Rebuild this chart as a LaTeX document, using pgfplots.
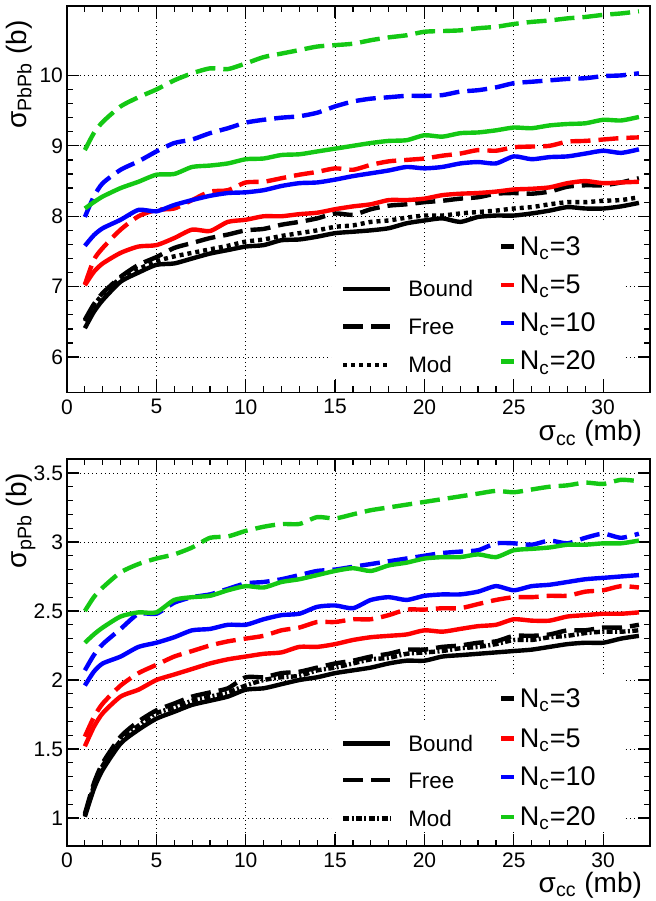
\documentclass[border=0pt]{standalone}
\usepackage{fontspec}
\setmainfont{Liberation Sans}
\usepackage{pgfplots}
\pgfplotsset{compat=1.18}

\definecolor{rgreen}{RGB}{20,200,20}

\pgfplotsset{
  rootaxis/.style={
    scale only axis, width=291.5pt, height=193.3pt,
    xmin=0, xmax=32.62, clip=false,
    xtick={0,5,...,30}, minor x tick num=4, minor y tick num=4,
    tick align=inside, tick pos=both,
    major tick length=6pt, minor tick length=3pt,
    grid=major,
    major grid style={black, line width=0.4pt, dash pattern=on 0.5pt off 1.6pt},
    axis line style={line width=0.8pt},
    tick style={black, line width=0.6pt},
    tick label style={font=\fontsize{10.5}{12}\selectfont},
    /pgf/number format/assume math mode=true,
    yticklabel style={xshift=1.5pt},
    every axis plot/.append style={line width=2.2pt, smooth, tension=0.4},
  },
}
\tikzset{
  bnd/.style={solid},
  fre/.style={dash pattern=on 10pt off 4pt},
  modt/.style={dash pattern=on 2pt off 2pt},
  modb/.style={dash pattern=on 3pt off 1.2pt on 1pt off 1.2pt},
  labfont/.style={font=\fontsize{14}{16}\selectfont},
  legA/.style={font=\fontsize{11.2}{13}\selectfont, anchor=base west},
  legB/.style={font=\fontsize{13.5}{16}\selectfont, anchor=base west},
}

\begin{document}
\begin{tikzpicture}
\useasboundingbox (-33.5pt,-254.35pt) rectangle (294pt,196.15pt);

% ---------- top: PbPb ----------
\begin{axis}[rootaxis, at={(0,0)}, anchor=south west,
    ymin=5.5, ymax=10.99, ytick={6,7,8,9,10}]
% legend backgrounds
\fill[white] (axis cs:14.85,5.69) rectangle (axis cs:24.0,7.24);
\fill[white] (axis cs:24.0,5.69) rectangle (axis cs:31.2,7.905);

\addplot[black, bnd] coordinates {(1,6.41)(1.5,6.64)(2,6.81)(3,7.07)(4,7.20)(5,7.31)(6,7.33)(7,7.40)(8,7.47)(9,7.52)(10,7.57)(11,7.59)(12,7.66)(13,7.67)(14,7.71)(15,7.76)(16,7.78)(17,7.80)(18,7.83)(19,7.90)(20,7.94)(21,7.97)(22,7.92)(23,7.99)(24,8.01)(25,8.01)(26,8.04)(27,8.08)(28,8.13)(29,8.11)(30,8.11)(31,8.14)(32,8.19)};
\addplot[black, fre] coordinates {(1,6.53)(1.5,6.75)(2,6.91)(3,7.14)(4,7.31)(5,7.42)(6,7.55)(7,7.62)(8,7.69)(9,7.74)(10,7.80)(11,7.82)(12,7.88)(13,7.92)(14,7.97)(15,8.04)(16,8.02)(17,8.10)(18,8.15)(19,8.17)(20,8.20)(21,8.22)(22,8.25)(23,8.27)(24,8.32)(25,8.33)(26,8.32)(27,8.35)(28,8.42)(29,8.44)(30,8.44)(31,8.48)(32,8.54)};
\addplot[black, modt] coordinates {(1,6.51)(1.5,6.73)(2,6.89)(3,7.12)(4,7.25)(5,7.36)(6,7.43)(7,7.48)(8,7.53)(9,7.58)(10,7.64)(11,7.67)(12,7.72)(13,7.76)(14,7.80)(15,7.85)(16,7.87)(17,7.92)(18,7.94)(19,7.98)(20,8.01)(21,8.01)(22,8.04)(23,8.06)(24,8.08)(25,8.11)(26,8.13)(27,8.17)(28,8.20)(29,8.20)(30,8.22)(31,8.23)(32,8.27)};
\addplot[red, bnd] coordinates {(1,7.02)(1.5,7.21)(2,7.33)(3,7.48)(4,7.57)(5,7.59)(6,7.69)(7,7.81)(8,7.79)(9,7.92)(10,7.95)(11,8.00)(12,8.00)(13,8.03)(14,8.05)(15,8.10)(16,8.14)(17,8.17)(18,8.23)(19,8.23)(20,8.25)(21,8.30)(22,8.32)(23,8.33)(24,8.35)(25,8.38)(26,8.39)(27,8.41)(28,8.47)(29,8.50)(30,8.47)(31,8.48)(32,8.49)};
\addplot[red, fre] coordinates {(1,7.03)(1.5,7.38)(2,7.55)(3,7.81)(4,8.00)(5,8.09)(6,8.11)(7,8.23)(8,8.35)(9,8.37)(10,8.48)(11,8.49)(12,8.54)(13,8.59)(14,8.63)(15,8.68)(16,8.66)(17,8.73)(18,8.78)(19,8.80)(20,8.82)(21,8.86)(22,8.89)(23,8.94)(24,8.93)(25,8.98)(26,8.99)(27,9.00)(28,9.06)(29,9.07)(30,9.09)(31,9.11)(32,9.12)};
\addplot[blue, bnd] coordinates {(1,7.58)(1.5,7.73)(2,7.83)(3,7.95)(4,8.09)(5,8.07)(6,8.16)(7,8.23)(8,8.29)(9,8.33)(10,8.34)(11,8.37)(12,8.43)(13,8.47)(14,8.48)(15,8.52)(16,8.57)(17,8.61)(18,8.65)(19,8.70)(20,8.68)(21,8.70)(22,8.75)(23,8.77)(24,8.75)(25,8.85)(26,8.81)(27,8.84)(28,8.85)(29,8.89)(30,8.93)(31,8.90)(32,8.95)};
\addplot[blue, fre] coordinates {(1,7.99)(1.5,8.28)(2,8.47)(3,8.66)(4,8.78)(5,8.92)(6,9.04)(7,9.09)(8,9.18)(9,9.25)(10,9.33)(11,9.37)(12,9.40)(13,9.42)(14,9.47)(15,9.56)(16,9.63)(17,9.67)(18,9.69)(19,9.71)(20,9.71)(21,9.72)(22,9.77)(23,9.79)(24,9.83)(25,9.89)(26,9.91)(27,9.93)(28,9.95)(29,9.96)(30,9.99)(31,10.00)(32,10.03)};
\addplot[rgreen, bnd] coordinates {(1,8.11)(1.5,8.20)(2,8.28)(3,8.40)(4,8.49)(5,8.59)(6,8.60)(7,8.70)(8,8.72)(9,8.75)(10,8.81)(11,8.82)(12,8.87)(13,8.88)(14,8.92)(15,8.96)(16,9.00)(17,9.04)(18,9.07)(19,9.08)(20,9.15)(21,9.13)(22,9.18)(23,9.19)(24,9.22)(25,9.26)(26,9.25)(27,9.29)(28,9.31)(29,9.32)(30,9.37)(31,9.36)(32,9.41)};
\addplot[rgreen, fre] coordinates {(1,8.94)(1.5,9.18)(2,9.34)(3,9.56)(4,9.69)(5,9.80)(6,9.93)(7,10.03)(8,10.10)(9,10.09)(10,10.17)(11,10.26)(12,10.31)(13,10.36)(14,10.41)(15,10.43)(16,10.45)(17,10.50)(18,10.54)(19,10.57)(20,10.62)(21,10.63)(22,10.64)(23,10.67)(24,10.69)(25,10.73)(26,10.76)(27,10.78)(28,10.81)(29,10.83)(30,10.86)(31,10.88)(32,10.91)};

% legend: line styles
\draw[black, line width=2.2pt] (axis cs:15.45,6.969) -- (axis cs:18.08,6.969);
\draw[black, line width=2.2pt, fre] (axis cs:15.45,6.434) -- (axis cs:18.08,6.434);
\draw[black, line width=2.2pt, modt] (axis cs:15.45,5.891) -- (axis cs:18.08,5.891);
\node[legA] at (axis cs:18.7,6.855) {Bound};
\node[legA] at (axis cs:18.7,6.321) {Free};
\node[legA] at (axis cs:18.7,5.778) {Mod};
% legend: N_c
\draw[black, line width=2.2pt] (axis cs:24.29,7.569) -- (axis cs:25.02,7.569);
\draw[red, line width=2.2pt] (axis cs:24.29,7.026) -- (axis cs:25.02,7.026);
\draw[blue, line width=2.2pt] (axis cs:24.29,6.482) -- (axis cs:25.02,6.482);
\draw[rgreen, line width=2.2pt] (axis cs:24.29,5.938) -- (axis cs:25.02,5.938);
\node[legB] at (axis cs:24.95,7.448) {N\textsubscript{c}=3};
\node[legB] at (axis cs:24.95,6.905) {N\textsubscript{c}=5};
\node[legB] at (axis cs:24.95,6.362) {N\textsubscript{c}=10};
\node[legB] at (axis cs:24.95,5.817) {N\textsubscript{c}=20};

\node[labfont, rotate=90, anchor=base east] at ([xshift=-20pt,yshift=-3.8pt]rel axis cs:0,1) {σ\textsubscript{PbPb} (b)};
\node[labfont, anchor=base east] at ([xshift=-0.5pt,yshift=-24.3pt]rel axis cs:1,0) {σ\textsubscript{cc} (mb)};
\end{axis}

% ---------- bottom: pPb ----------
\begin{axis}[rootaxis, at={(0,-226.7pt)}, anchor=south west,
    ymin=0.8, ymax=3.6, ytick={1,1.5,2,2.5,3,3.5}]
\fill[white] (axis cs:14.85,0.9) rectangle (axis cs:24.0,1.696);
\fill[white] (axis cs:24.0,0.9) rectangle (axis cs:31.2,2.02);

\addplot[black, bnd] coordinates {(1,1.01)(1.5,1.21)(2,1.35)(3,1.54)(4,1.64)(5,1.72)(6,1.77)(7,1.82)(8,1.85)(9,1.88)(10,1.93)(11,1.94)(12,1.97)(13,2.00)(14,2.02)(15,2.05)(16,2.07)(17,2.09)(18,2.12)(19,2.14)(20,2.14)(21,2.17)(22,2.18)(23,2.19)(24,2.20)(25,2.21)(26,2.22)(27,2.24)(28,2.26)(29,2.27)(30,2.27)(31,2.30)(32,2.32)};
\addplot[black, fre] coordinates {(1,1.03)(1.5,1.25)(2,1.40)(3,1.59)(4,1.70)(5,1.78)(6,1.83)(7,1.88)(8,1.91)(9,1.94)(10,2.02)(11,2.02)(12,2.05)(13,2.06)(14,2.09)(15,2.12)(16,2.14)(17,2.17)(18,2.19)(19,2.22)(20,2.22)(21,2.24)(22,2.25)(23,2.27)(24,2.28)(25,2.32)(26,2.32)(27,2.33)(28,2.36)(29,2.36)(30,2.38)(31,2.38)(32,2.40)};
\addplot[black, modb] coordinates {(1,1.02)(1.5,1.23)(2,1.38)(3,1.56)(4,1.67)(5,1.76)(6,1.80)(7,1.85)(8,1.88)(9,1.91)(10,1.96)(11,2.00)(12,2.02)(13,2.03)(14,2.07)(15,2.09)(16,2.12)(17,2.15)(18,2.16)(19,2.19)(20,2.20)(21,2.21)(22,2.23)(23,2.24)(24,2.26)(25,2.29)(26,2.29)(27,2.31)(28,2.32)(29,2.34)(30,2.35)(31,2.35)(32,2.36)};
\addplot[red, bnd] coordinates {(1,1.52)(1.5,1.66)(2,1.76)(3,1.88)(4,1.93)(5,2.00)(6,2.04)(7,2.08)(8,2.12)(9,2.15)(10,2.17)(11,2.19)(12,2.20)(13,2.24)(14,2.24)(15,2.26)(16,2.29)(17,2.31)(18,2.32)(19,2.33)(20,2.36)(21,2.35)(22,2.37)(23,2.39)(24,2.40)(25,2.44)(26,2.43)(27,2.43)(28,2.46)(29,2.47)(30,2.48)(31,2.48)(32,2.49)};
\addplot[red, fre] coordinates {(1,1.59)(1.5,1.73)(2,1.83)(3,1.96)(4,2.05)(5,2.11)(6,2.17)(7,2.21)(8,2.25)(9,2.28)(10,2.30)(11,2.32)(12,2.36)(13,2.38)(14,2.42)(15,2.42)(16,2.44)(17,2.44)(18,2.47)(19,2.51)(20,2.51)(21,2.52)(22,2.52)(23,2.55)(24,2.58)(25,2.60)(26,2.60)(27,2.61)(28,2.61)(29,2.64)(30,2.65)(31,2.68)(32,2.67)};
\addplot[blue, bnd] coordinates {(1,1.96)(1.5,2.06)(2,2.12)(3,2.17)(4,2.24)(5,2.27)(6,2.31)(7,2.36)(8,2.37)(9,2.40)(10,2.40)(11,2.44)(12,2.47)(13,2.48)(14,2.53)(15,2.54)(16,2.52)(17,2.58)(18,2.60)(19,2.58)(20,2.61)(21,2.62)(22,2.62)(23,2.64)(24,2.68)(25,2.65)(26,2.68)(27,2.69)(28,2.71)(29,2.73)(30,2.74)(31,2.75)(32,2.76)};
\addplot[blue, fre] coordinates {(1,2.07)(1.5,2.18)(2,2.26)(3,2.37)(4,2.48)(5,2.48)(6,2.56)(7,2.60)(8,2.62)(9,2.66)(10,2.70)(11,2.71)(12,2.73)(13,2.76)(14,2.79)(15,2.80)(16,2.82)(17,2.84)(18,2.86)(19,2.88)(20,2.90)(21,2.92)(22,2.93)(23,2.94)(24,2.99)(25,2.99)(26,2.98)(27,3.01)(28,2.99)(29,3.03)(30,3.06)(31,3.03)(32,3.06)};
\addplot[rgreen, bnd] coordinates {(1,2.27)(1.5,2.33)(2,2.38)(3,2.46)(4,2.49)(5,2.49)(6,2.58)(7,2.60)(8,2.61)(9,2.65)(10,2.68)(11,2.67)(12,2.71)(13,2.73)(14,2.76)(15,2.79)(16,2.81)(17,2.79)(18,2.83)(19,2.85)(20,2.88)(21,2.89)(22,2.89)(23,2.91)(24,2.89)(25,2.94)(26,2.95)(27,2.96)(28,2.98)(29,2.98)(30,2.99)(31,2.99)(32,3.01)};
\addplot[rgreen, fre] coordinates {(1,2.50)(1.5,2.60)(2,2.67)(3,2.78)(4,2.84)(5,2.88)(6,2.91)(7,2.96)(8,3.03)(9,3.04)(10,3.08)(11,3.11)(12,3.13)(13,3.13)(14,3.18)(15,3.17)(16,3.20)(17,3.23)(18,3.25)(19,3.27)(20,3.29)(21,3.31)(22,3.33)(23,3.35)(24,3.37)(25,3.36)(26,3.38)(27,3.40)(28,3.41)(29,3.43)(30,3.42)(31,3.45)(32,3.44)};

\draw[black, line width=2.2pt] (axis cs:15.45,1.540) -- (axis cs:18.08,1.540);
\draw[black, line width=2.2pt, fre] (axis cs:15.45,1.275) -- (axis cs:18.08,1.275);
\draw[black, line width=2.2pt, modb] (axis cs:15.45,0.998) -- (axis cs:18.08,0.998);
\node[legA] at (axis cs:18.7,1.482) {Bound};
\node[legA] at (axis cs:18.7,1.217) {Free};
\node[legA] at (axis cs:18.7,0.940) {Mod};
\draw[black, line width=2.2pt] (axis cs:24.29,1.865) -- (axis cs:25.02,1.865);
\draw[red, line width=2.2pt] (axis cs:24.29,1.576) -- (axis cs:25.02,1.576);
\draw[blue, line width=2.2pt] (axis cs:24.29,1.298) -- (axis cs:25.02,1.298);
\draw[rgreen, line width=2.2pt] (axis cs:24.29,1.009) -- (axis cs:25.02,1.009);
\node[legB] at (axis cs:24.95,1.803) {N\textsubscript{c}=3};
\node[legB] at (axis cs:24.95,1.514) {N\textsubscript{c}=5};
\node[legB] at (axis cs:24.95,1.237) {N\textsubscript{c}=10};
\node[legB] at (axis cs:24.95,0.948) {N\textsubscript{c}=20};

\node[labfont, rotate=90, anchor=base east] at ([xshift=-20pt,yshift=-3.4pt]rel axis cs:0,1) {σ\textsubscript{pPb} (b)};
\node[labfont, anchor=base east] at ([xshift=-0.5pt,yshift=-23.2pt]rel axis cs:1,0) {σ\textsubscript{cc} (mb)};
\end{axis}
\end{tikzpicture}
\end{document}
